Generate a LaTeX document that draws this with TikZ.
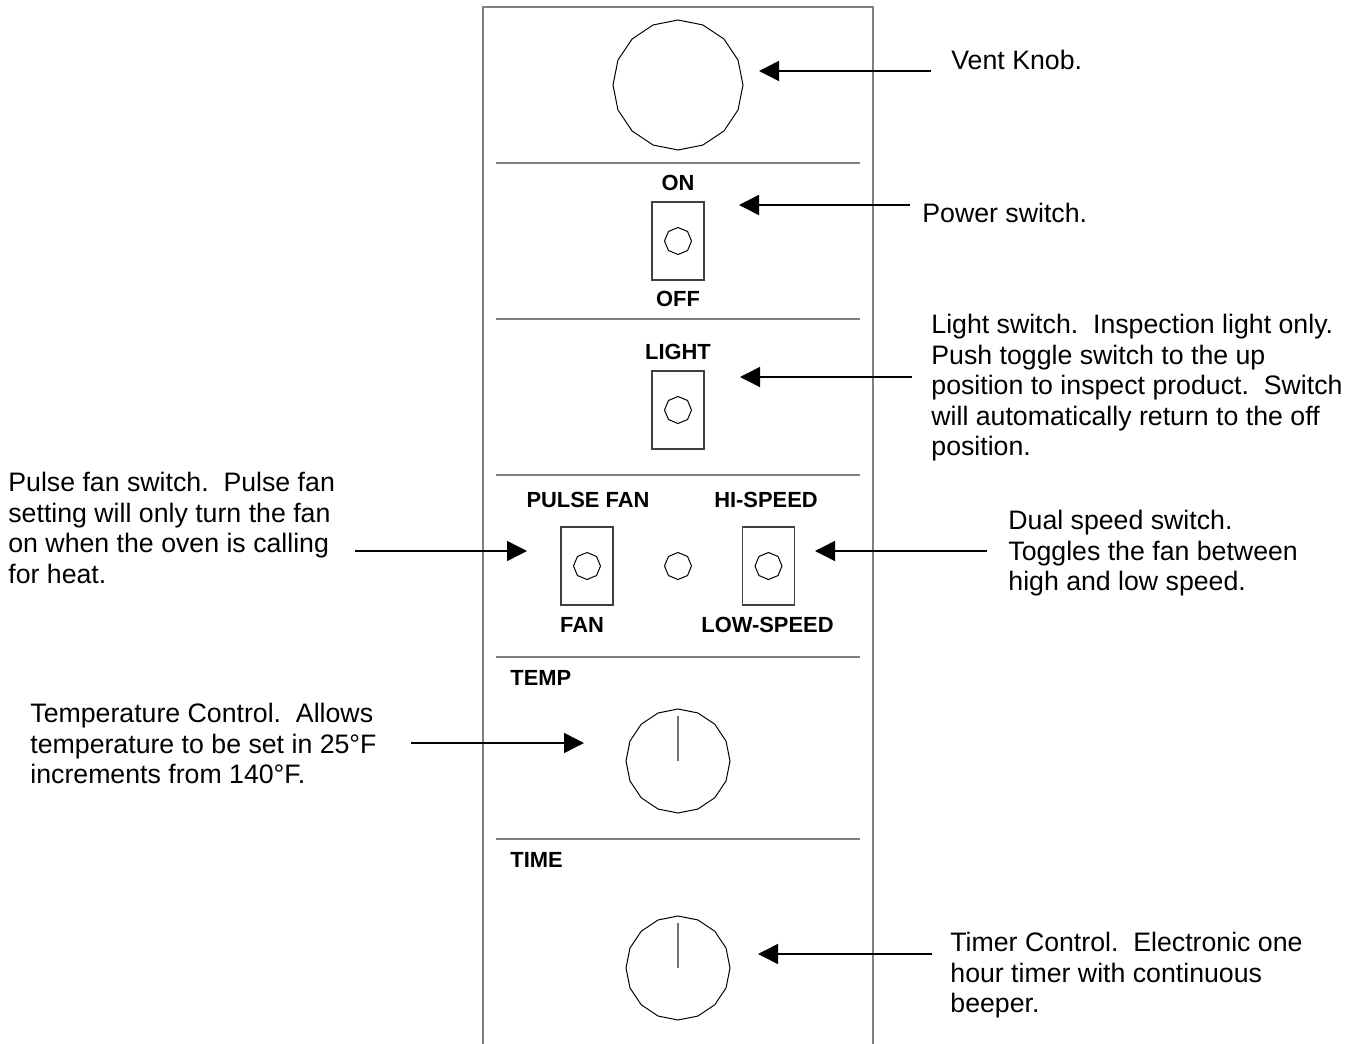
\documentclass[tikz,border=0pt]{standalone}
\usepackage{fontspec}
\setmainfont{Liberation Sans}
\usetikzlibrary{arrows.meta,shapes.geometric}
\begin{document}
\begin{tikzpicture}[x=0.5pt,y=-0.5pt,
  panelline/.style={draw=black!50, line width=0.65pt},
  knob/.style={regular polygon, regular polygon sides=16, rotate=11.25, draw=black, line width=0.5pt, inner sep=0pt},
  bigknob/.style={knob, minimum size=65pt},
  dialknob/.style={knob, minimum size=52pt},
  togglebox/.style={rectangle, draw=black!75, line width=0.6pt, minimum width=26pt, minimum height=39pt, inner sep=0pt},
  nut/.style={regular polygon, regular polygon sides=8, rotate=22.5, draw=black, line width=0.5pt, minimum size=13.5pt, inner sep=0pt},
  pointer/.style={draw=black!55, line width=0.65pt},
  callout/.style={-{Triangle[length=10pt,width=10pt]}, line width=0.75pt, draw=black},
  txt/.style={anchor=north west, inner sep=0pt, align=left, font=\fontsize{13.35}{15.25}\selectfont},
  lbl/.style={anchor=base, inner sep=0pt, font=\fontsize{10.95}{12.5}\selectfont\bfseries},
  lblw/.style={lbl, anchor=base west}]
\useasboundingbox (0,0) rectangle (1357,1044);

% panel outline and separators
\draw[panelline] (483,1050) -- (483,7) -- (873,7) -- (873,1050);
\foreach \yy in {163,319,475,657,839}
  \draw[panelline] (496,\yy) -- (860,\yy);

% vent knob
\node[bigknob] (vent) at (678,85) {};

% power switch
\node[lbl] (onL) at (678,190) {ON};
\node[togglebox] (pwr) at (678,241) {};
\node[nut] (pwrnut) at (678,241) {};
\node[lbl] (offL) at (678,306) {OFF};

% light switch
\node[lbl] (lightL) at (678,359) {LIGHT};
\node[togglebox] (light) at (678,410) {};
\node[nut] (lightnut) at (678,410) {};

% fan switches
\node[lbl] (pulseL) at (588,507) {PULSE FAN};
\node[lbl] (hiL) at (766,507) {HI-SPEED};
\node[togglebox] (pulse) at (587,566) {};
\node[nut] (pulsenut) at (587,566) {};
\node[nut] (midnut) at (678,566) {};
\node[togglebox] (speed) at (768.5,566) {};
\node[nut] (speednut) at (768.5,566) {};
\node[lbl] (fanL) at (582,632) {FAN};
\node[lbl] (lowL) at (767.5,632) {LOW-SPEED};

% temperature
\node[lblw] (tempL) at (510,685) {TEMP};
\node[dialknob] (temp) at (678,761) {};
\draw[pointer] (temp.center) -- ++(0,-45);

% time
\node[lblw] (timeL) at (510,867) {TIME};
\node[dialknob] (timer) at (678,968) {};
\draw[pointer] (timer.center) -- ++(0,-45);

% callout texts
\node[txt] (ventT) at (951,50) {Vent Knob.};
\node[txt] (powerT) at (922,203) {Power switch.};
\node[txt] (lightT) at (931,314) {Light switch.\ \ Inspection light only.\\Push toggle switch to the up\\position to inspect product.\ \ Switch\\will automatically return to the off\\position.};
\begin{scope}
  \clip (0,0) rectangle (480,583);
  \node[txt] (pulseT) at (8,472) {Pulse fan switch.\ \ Pulse fan\\setting will only turn the fan\\on when the oven is calling\\for heat.};
\end{scope}
\node[txt] (dualT) at (1008,510) {Dual speed switch.\\Toggles the fan between\\high and low speed.};
\node[txt] (tempT) at (30,703) {Temperature Control.\ \ Allows\\temperature to be set in 25°F\\increments from 140°F.};
\node[txt] (timerT) at (950,932) {Timer Control.\ \ Electronic one\\hour timer with continuous\\beeper.};

% callout arrows
\coordinate (ventA) at (931,71);   \coordinate (ventB) at (759,71);
\coordinate (powA) at (910,205);   \coordinate (powB) at (739,205);
\coordinate (ligA) at (912,377);   \coordinate (ligB) at (740,377);
\coordinate (pulA) at (355,551);   \coordinate (pulB) at (527,551);
\coordinate (duaA) at (987,551);   \coordinate (duaB) at (815,551);
\coordinate (temA) at (411,743);   \coordinate (temB) at (584,743);
\coordinate (timA) at (932,954);   \coordinate (timB) at (758,954);
\draw[callout] (ventA) -- (ventB);
\draw[callout] (powA) -- (powB);
\draw[callout] (ligA) -- (ligB);
\draw[callout] (pulA) -- (pulB);
\draw[callout] (duaA) -- (duaB);
\draw[callout] (temA) -- (temB);
\draw[callout] (timA) -- (timB);
\end{tikzpicture}
\end{document}
